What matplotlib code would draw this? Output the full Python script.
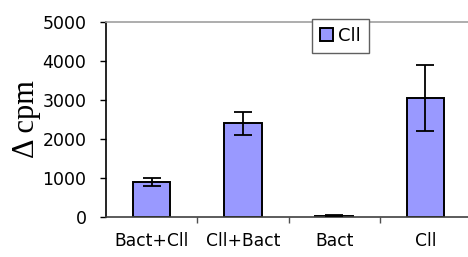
import numpy as np
import matplotlib
matplotlib.use('Agg')
import matplotlib.pyplot as plt

categories = ['Bact+Cll', 'Cll+Bact', 'Bact', 'Cll']
values = [900, 2400, 30, 3050]
errors = [100, 300, 10, 850]
series_name = 'Cll'
yticks = [0, 1000, 2000, 3000, 4000, 5000]

plt.rcParams['font.family'] = ['DejaVu Sans']

fig = plt.figure(figsize=(4.68, 2.57), dpi=100)
ax = fig.add_axes([0.2265, 0.1556, 0.78, 0.7588])

x = np.arange(len(categories))
ax.bar(x, values, width=0.41, color='#9999ff', edgecolor='black', linewidth=1.4,
       label=series_name, zorder=2)
ax.errorbar(x, values, yerr=errors, fmt='none', ecolor='black', elinewidth=1.3,
            capsize=6.5, capthick=1.3, zorder=3)

ax.set_xlim(-0.5, 3.5)
ax.set_ylim(0, 5000)
ax.set_yticks(yticks)
ax.set_yticklabels([str(v) for v in yticks], fontsize=12.5)

# categories sit between the tick marks
ax.set_xticks([0.5, 1.5, 2.5])
ax.set_xticklabels([])
ax.set_xticks(x, minor=True)
ax.set_xticklabels(categories, minor=True, fontsize=12.3)
ax.tick_params(axis='x', which='major', length=4, color='#505050', width=1)
ax.tick_params(axis='x', which='minor', length=0, pad=11)
ax.tick_params(axis='y', length=4, width=1, pad=10)

ax.spines['right'].set_visible(False)
ax.spines['top'].set_color('#a0a0a0')
ax.spines['top'].set_linewidth(1.2)
ax.spines['left'].set_color('black')
ax.spines['left'].set_linewidth(1.2)
ax.spines['bottom'].set_color('#404040')
ax.spines['bottom'].set_linewidth(1.2)

ax.set_ylabel('Δ cpm', fontsize=22, family=['Liberation Serif', 'DejaVu Serif'],
              labelpad=1)

leg = ax.legend(loc='center', bbox_to_anchor=(0.642, 0.93), fontsize=13,
                frameon=True, fancybox=False, edgecolor='#606060',
                handlelength=0.7, handleheight=0.7, handletextpad=0.3,
                borderpad=0.45, borderaxespad=0)
leg.get_frame().set_linewidth(1)
leg.get_frame().set_alpha(1)

fig.savefig('out.png', dpi=100)
